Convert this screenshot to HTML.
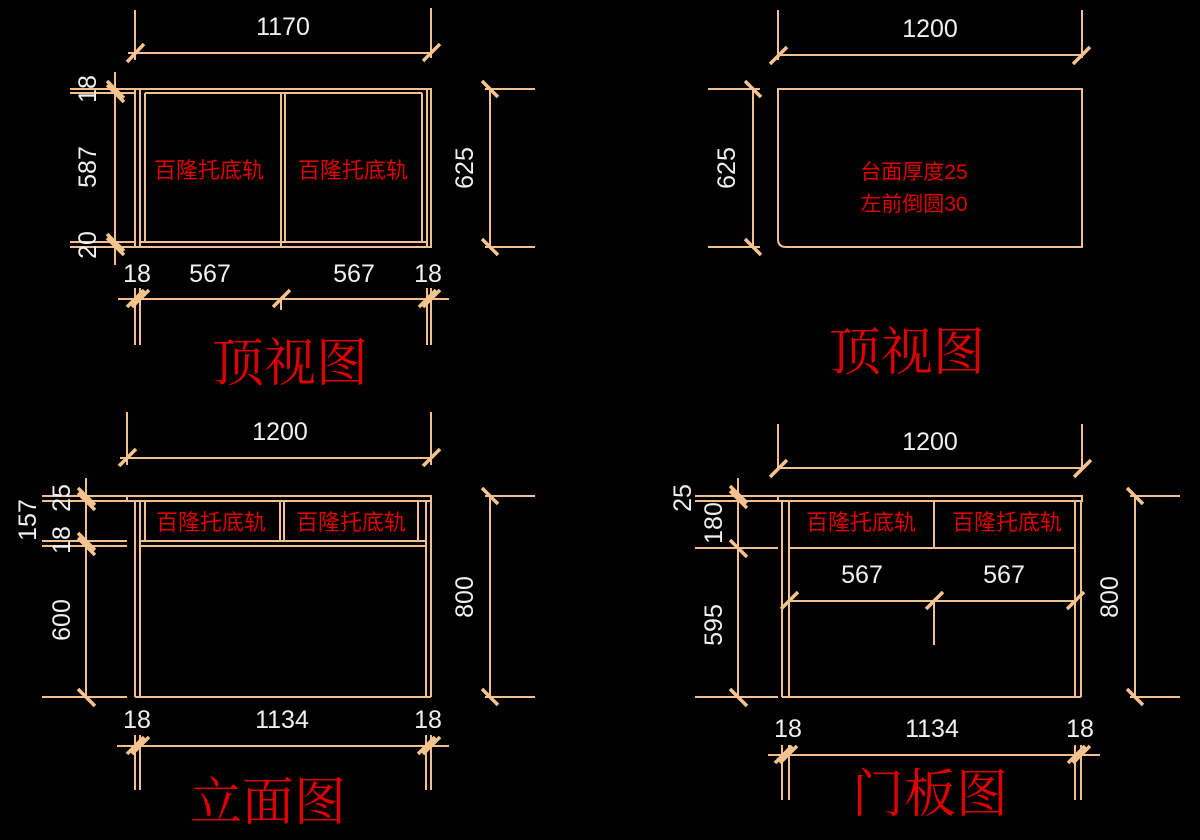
<!DOCTYPE html>
<html><head><meta charset="utf-8"><style>
html,body{margin:0;padding:0;background:#000;}
svg{display:block}
.l{stroke:#f2c08e;stroke-width:2;fill:none}
.t{stroke:#f7c48f;stroke-width:3.5}
.n{fill:#f0f0f0;font-family:"Liberation Sans",sans-serif;font-size:25px;text-anchor:middle}
.r{fill:#e00000;font-family:"Liberation Sans","Noto Sans CJK SC",sans-serif;font-size:22px;text-anchor:middle}
.h{fill:#e00000;font-family:"Liberation Serif","Noto Serif CJK SC",serif;font-size:52px;text-anchor:middle}
</style></head><body>
<svg width="1200" height="840" viewBox="0 0 1200 840" xmlns="http://www.w3.org/2000/svg">
<rect width="1200" height="840" fill="#000"/>

<!-- ===== Top-left view ===== -->
<g class="l">
<path d="M135 10V60M431 8V58M128 53H431"/>
<rect x="135" y="89" width="296" height="158"/>
<path d="M140 89V247M145 93V242M422 93V242M427 89V247M145 93H422M140 242H427M281 93V247M285 93V242"/>
<path d="M115 72V265M70 89H135M70 93H135M70 242H135M70 247H135"/>
<path d="M490 89V247M485 89H535M485 247H535"/>
<path d="M118 299H449M135 288V345M140 288V345M281 299V310M427 288V345M431 288V345"/>
</g>
<g class="t">
<path d="M127 62L144 44M423 61L440 44"/>
<path d="M107 81L124 98M107 85L124 102M107 234L124 251M107 238L124 255"/>
<path d="M482 81L498 97M482 239L498 255"/>
<path d="M127 307L144 290M132 307L149 290M273 307L290 290M419 307L436 290M423 307L440 290"/>
</g>
<text class="n" x="283" y="35">1170</text>
<text class="n" transform="translate(96,89) rotate(-90)">18</text>
<text class="n" transform="translate(96,167) rotate(-90)">587</text>
<text class="n" transform="translate(96,245) rotate(-90)">20</text>
<text class="n" transform="translate(473,168) rotate(-90)">625</text>
<text class="n" x="137" y="282">18</text>
<text class="n" x="210" y="282">567</text>
<text class="n" x="354" y="282">567</text>
<text class="n" x="428" y="282">18</text>
<text class="r" x="209" y="178">百隆托底轨</text>
<text class="r" x="353" y="178">百隆托底轨</text>
<text class="h" x="290" y="381">顶视图</text>

<!-- ===== Top-right view ===== -->
<g class="l">
<path d="M778 10V60M1082 10V58M778 55H1082"/>
<path d="M778 89H1082V247H786Q778 247 778 239Z"/>
<path d="M753 89V247M708 89H760M708 247H760"/>
</g>
<g class="t">
<path d="M770 64L787 47M1073 64L1090 47"/>
<path d="M745 81L761 97M745 239L761 255"/>
</g>
<text class="n" x="930" y="37">1200</text>
<text class="n" transform="translate(735,168) rotate(-90)">625</text>
<text class="r" x="914" y="179" style="font-size:21px">台面厚度25</text>
<text class="r" x="914" y="211" style="font-size:21px">左前倒圆30</text>
<text class="h" x="907" y="370">顶视图</text>

<!-- ===== Bottom-left elevation ===== -->
<g class="l">
<path d="M127 412V465M431 412V465M120 458H431"/>
<rect x="127" y="496" width="304" height="5"/>
<path d="M135 501V697M140 501V697M426 501V697M431 501V697M135 697H431"/>
<path d="M145 501V541M280 501V541M284 501V541M418 501V541M140 541H426M140 546H426"/>
<path d="M86 478V697M42 496H127M42 501H127M42 541H127M42 546H127M42 697H127"/>
<path d="M490 496V697M485 496H535M485 697H535"/>
<path d="M117 746H449M135 735V790M140 735V790M426 735V790M431 735V790"/>
</g>
<g class="t">
<path d="M119 466L136 449M423 466L440 449"/>
<path d="M78 488L95 505M78 493L95 510M78 533L95 550M78 538L95 555M78 689L95 706"/>
<path d="M482 488L498 504M482 689L498 705"/>
<path d="M127 754L144 737M132 754L149 737M418 754L435 737M423 754L440 737"/>
</g>
<text class="n" x="280" y="440">1200</text>
<text class="n" transform="translate(70,498) rotate(-90)">25</text>
<text class="n" transform="translate(70,540) rotate(-90)">18</text>
<text class="n" transform="translate(36,520) rotate(-90)">157</text>
<text class="n" transform="translate(70,620) rotate(-90)">600</text>
<text class="n" transform="translate(473,597) rotate(-90)">800</text>
<text class="n" x="137" y="728">18</text>
<text class="n" x="282" y="728">1134</text>
<text class="n" x="428" y="728">18</text>
<text class="r" x="211" y="530">百隆托底轨</text>
<text class="r" x="351" y="530">百隆托底轨</text>
<text class="h" x="268" y="820">立面图</text>

<!-- ===== Bottom-right door view ===== -->
<g class="l">
<path d="M778 424V470M1082 424V470M778 468H1082"/>
<rect x="778" y="496" width="304" height="5"/>
<path d="M782 501V697M789 501V697M1075 501V697M1081 501V697M782 697H1081"/>
<path d="M789 548H1075M934 501V548"/>
<path d="M789 601H1075M934 601V645"/>
<path d="M738 478V697M695 496H778M695 501H778M695 548H778M695 697H778"/>
<path d="M1135 496V697M1130 496H1180M1130 697H1180"/>
<path d="M768 755H1100M782 745V800M789 745V800M1075 745V800M1081 745V800"/>
</g>
<g class="t">
<path d="M770 477L787 460M1074 477L1091 460"/>
<path d="M730 486L747 503M730 491L747 508M730 540L747 557M730 689L747 706"/>
<path d="M781 609L798 592M926 609L943 592M1067 609L1084 592"/>
<path d="M1127 488L1143 504M1127 689L1143 705"/>
<path d="M775 763L792 746M780 763L797 746M1068 763L1085 746M1073 763L1090 746"/>
</g>
<text class="n" x="930" y="450">1200</text>
<text class="n" transform="translate(691,498) rotate(-90)">25</text>
<text class="n" transform="translate(722,523) rotate(-90)">180</text>
<text class="n" transform="translate(722,625) rotate(-90)">595</text>
<text class="n" transform="translate(1118,597) rotate(-90)">800</text>
<text class="n" x="862" y="583">567</text>
<text class="n" x="1004" y="583">567</text>
<text class="n" x="788" y="737">18</text>
<text class="n" x="932" y="737">1134</text>
<text class="n" x="1080" y="737">18</text>
<text class="r" x="861" y="530">百隆托底轨</text>
<text class="r" x="1007" y="530">百隆托底轨</text>
<text class="h" x="930" y="812">门板图</text>
</svg>
</body></html>
